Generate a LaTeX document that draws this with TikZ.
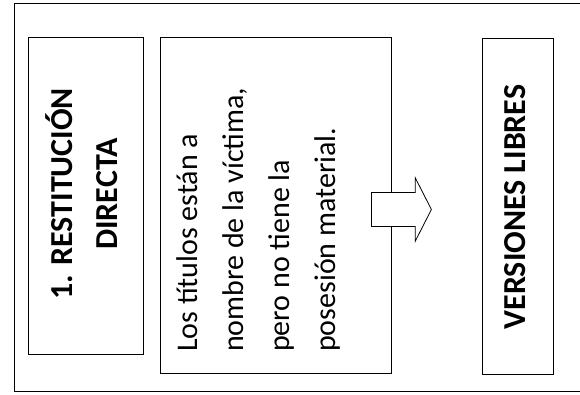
\documentclass[tikz,border=0pt]{standalone}
\usepackage{fontspec}
\setmainfont{Carlito}
\usetikzlibrary{shapes.arrows}
\tikzset{
	box/.style={draw, line width=0.8pt, rectangle, inner sep=0pt},
	vtext/.style={rotate=90, inner sep=0pt},
}

\begin{document}
\begin{tikzpicture}[x=1pt, y=-1pt]
		%%%%% START %%%%%
		
		\useasboundingbox (0, 0) rectangle (580, 395);
		\draw[line width=1pt] (580, 4) -- (14, 4) -- (14, 391) -- (580, 391);
		
		\node[box, minimum width=115pt, minimum height=317pt] (restit) at (85.5, 195.5) {};
		\node[box, minimum width=231pt, minimum height=336pt] (titulos) at (275.5, 205) {};
		\node[box, minimum width=71pt, minimum height=336pt] (versiones) at (517.5, 206) {};
		
		\node[vtext, align=center, font=\bfseries\fontsize{32}{45}\selectfont] (restitTxt) at (82, 194) {1. RESTITUCIÓN\\DIRECTA};
		\node[vtext, align=left, anchor=north west, font=\fontsize{30}{46}\selectfont] (titulosTxt) at (176, 352) {Los títulos están a\\nombre de la víctima,\\pero no tiene la\\posesión material.};
		\node[vtext, anchor=base, font=\bfseries\fontsize{32}{40}\selectfont] (versionesTxt) at (525, 207) {VERSIONES LIBRES};
		
		\node[single arrow, draw, fill=white, line width=0.8pt, inner xsep=0pt, inner ysep=16.5pt, minimum height=60pt, single arrow head extend=15pt, single arrow tip angle=126, anchor=tail] (flecha) at (371, 209.5) {};
		
		%%%%% END %%%%%
	\end{tikzpicture}
\end{document}
